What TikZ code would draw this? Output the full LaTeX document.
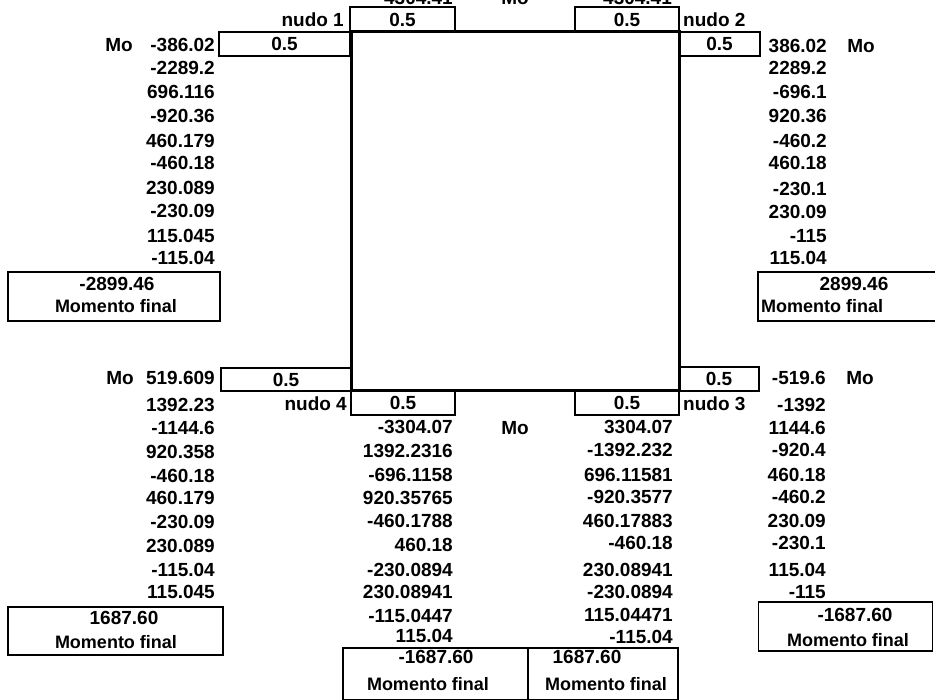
\documentclass[tikz,border=0pt]{standalone}
\usepackage{fontspec}
\setmainfont{Liberation Sans}
\begin{document}
\begin{tikzpicture}[x=1pt,y=-1pt,
  every node/.style={inner sep=0pt, font=\fontsize{19}{22}\selectfont\bfseries},
  num/.style={anchor=east},
  cell/.style={draw, line width=1.3pt},
  finbox/.style={draw, line width=1.6pt},
  fin/.style={font=\fontsize{18}{21}\selectfont\bfseries},
  framestyle/.style={draw, line width=3pt}]
\useasboundingbox (0,0) rectangle (935,700);

% frame
\node[framestyle, minimum width=328pt, minimum height=359pt] (frame) at (515,211.5) {};

% top strip (cut off as in the reference)
\node[anchor=base east] (topl) at (453,5) {4304.41};
\node[anchor=base] (topmo) at (515,5) {Mo};
\node[anchor=base west] (topr) at (603,5) {4304.41};

% distribution cells
\node[cell, minimum width=105pt, minimum height=25pt] (c1t) at (402.5,19.5) {0.5};
\node[cell, minimum width=131pt, minimum height=24pt] (c1l) at (284.5,44) {0.5};
\node[cell, minimum width=104pt, minimum height=25pt] (c2t) at (627,19.5) {0.5};
\node[cell, minimum width=81pt, minimum height=24pt] (c2r) at (719.5,44) {0.5};
\node[cell, minimum width=130pt, minimum height=23pt] (c4l) at (286,379.5) {0.5};
\node[cell, minimum width=104pt, minimum height=24pt] (c4b) at (403,403) {0.5};
\node[cell, minimum width=104pt, minimum height=24pt] (c3b) at (627,403) {0.5};
\node[cell, minimum width=80pt, minimum height=24pt] (c3r) at (719,379) {0.5};

% joint labels
\node[anchor=east] (n1) at (344,20) {nudo 1};
\node[anchor=west] (n2) at (683,20) {nudo 2};
\node[anchor=east] (n4) at (347,404) {nudo 4};
\node[anchor=west] (n3) at (683,404) {nudo 3};

% Mo labels
\node (motl) at (119,45) {Mo};
\node (motr) at (861,46) {Mo};
\node (mobl) at (120,378) {Mo};
\node (mobr) at (860,378) {Mo};
\node (mom) at (515,428) {Mo};

% columns
\foreach \v/\y [count=\i] in {-386.02/45,-2289.2/68,696.116/92,-920.36/116,460.179/141,-460.18/163,230.089/188,-230.09/211,115.045/236,-115.04/258}
  \node[num] (tl\i) at (215,\y) {\v};
\foreach \v/\y [count=\i] in {386.02/46,2289.2/68,-696.1/92,920.36/116,-460.2/141,460.18/163,-230.1/189,230.09/212,-115/236,115.04/258}
  \node[num] (tr\i) at (827,\y) {\v};
\foreach \v/\y [count=\i] in {519.609/378,1392.23/405,-1144.6/428,920.358/452,-460.18/476,460.179/498,-230.09/522,230.089/546,-115.04/570,115.045/592}
  \node[num] (bl\i) at (215,\y) {\v};
\foreach \v/\y [count=\i] in {-519.6/378,-1392/405,1144.6/428,-920.4/450,460.18/475,-460.2/497,230.09/521,-230.1/543,115.04/570,-115/592}
  \node[num] (br\i) at (826,\y) {\v};
\foreach \v/\y [count=\i] in {-3304.07/427,1392.2316/451,-696.1158/475,920.35765/498,-460.1788/521,460.18/545,-230.0894/570,230.08941/592,-115.0447/616,115.04/636}
  \node[num] (ml\i) at (453,\y) {\v};
\foreach \v/\y [count=\i] in {3304.07/427,-1392.232/450,696.11581/475,-920.3577/497,460.17883/521,-460.18/543,230.08941/570,-230.0894/592,115.04471/615,-115.04/637}
  \node[num] (mr\i) at (673,\y) {\v};

% final moment boxes
\node[finbox, minimum width=212pt, minimum height=49pt] (ftl) at (114,296.5) {};
\node (ftlv) at (117,284) {-2899.46};
\node[fin] (ftlm) at (116,306) {Momento final};

\node[finbox, minimum width=190pt, minimum height=49pt] (ftr) at (853,296.5) {};
\node (ftrv) at (854,284) {2899.46};
\node[fin, anchor=west] (ftrm) at (761,306) {Momento final};

\node[finbox, minimum width=215pt, minimum height=48pt] (fbl) at (115.5,631) {};
\node (fblv) at (124,618) {1687.60};
\node[fin] (fblm) at (116,642) {Momento final};

\node[finbox, minimum width=174pt, minimum height=49pt] (fbr) at (845.5,626.5) {};
\node (fbrv) at (855,615) {-1687.60};
\node[fin] (fbrm) at (848,640) {Momento final};

\node[finbox, minimum width=185pt, minimum height=52pt] (fml) at (435.5,674) {};
\node (fmlv) at (436,657) {-1687.60};
\node[fin] (fmlm) at (428,684) {Momento final};

\node[finbox, minimum width=150pt, minimum height=52pt] (fmr) at (603,674) {};
\node (fmrv) at (587,657) {1687.60};
\node[fin] (fmrm) at (606,684) {Momento final};
\end{tikzpicture}
\end{document}
